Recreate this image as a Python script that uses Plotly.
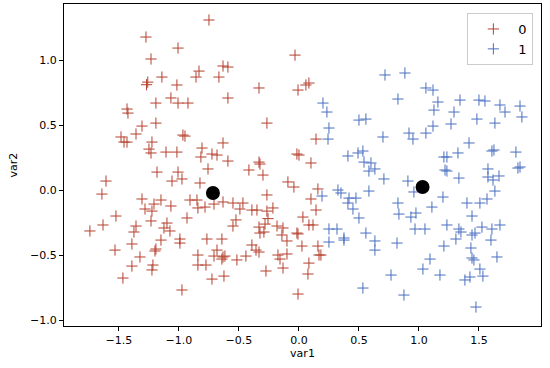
import plotly.graph_objects as go

# cluster 0 (red)
x0 = [-1.275,-1.008,-1.233,-1.142,-1.26,-1.27,-1.017,-1.067,-1.192,-1.008,-1.433,-0.75,-0.033,-0.633,-0.592,
      -0.833,-0.858,-0.667,-0.333,-0.008,-0.592,-0.925,0.058,0.083,
      -1.425,-1.308,-1.192,-1.358,-1.483,-1.458,-1.433,-1.225,-1.25,-1.233,-1.108,-1.017,-1.183,-1.008,-1.608,
      -1.058,-0.975,-1.642,-1.308,-1.15,-1.208,-1.067,-1.283,-1.225,-1.525,-0.967,
      -0.267,-0.95,-0.633,-0.808,-0.725,-0.683,-0.817,-0.017,-0.592,-0.333,-0.325,-0.758,-0.417,-0.3,
      -0.825,-0.092,-0.042,-0.267,-0.908,-0.85,-0.633,-0.55,-0.467,-0.708,-0.783,-0.842,-0.492,-0.392,-0.35,
      -0.267,-0.217,-0.525,-0.258,-0.933,
      0.142,0.0,0.1,0.158,0.1,0.142,0.033,
      -1.742,-1.633,-1.358,-1.375,-1.233,-1.1,-1.125,-1.075,-1.15,-0.992,-0.992,-1.392,-1.533,-1.192,-1.2,
      -1.325,-1.392,-1.217,-1.225,-1.467,-0.975,
      -0.55,-0.283,-0.333,-0.183,-0.133,-0.325,-0.292,-0.142,-0.017,-0.1,-0.767,-0.642,-0.392,-0.358,-0.333,
      -0.683,-0.842,-0.708,-0.633,-0.617,-0.442,-0.517,-0.642,-0.175,-0.158,-0.1,-0.842,-0.775,-0.133,-0.275,
      -0.625,-0.725,-0.008,
      0.083,0.117,-0.008,0.025,0.158,0.167,0.183,0.083,0.075]
y0 = [1.177,1.092,1.008,0.869,0.83,0.81,0.808,0.708,0.669,0.669,0.623,1.308,1.038,0.954,0.946,
      0.915,0.869,0.869,0.785,0.769,0.708,0.669,0.808,0.823,
      0.592,0.492,0.515,0.431,0.408,0.369,0.369,0.369,0.315,0.285,0.292,0.292,0.138,0.138,0.069,
      0.069,0.085,-0.031,-0.069,-0.077,-0.108,-0.123,-0.146,-0.162,-0.2,0.423,
      0.515,0.415,0.362,0.323,0.277,0.269,0.254,0.277,0.223,0.215,0.2,0.162,0.154,0.115,
      0.054,0.062,0.023,-0.038,-0.077,-0.077,-0.092,-0.1,-0.1,-0.108,-0.131,-0.138,-0.146,-0.154,-0.154,
      -0.162,-0.138,-0.23,-0.22,-0.215,
      0.392,0.269,0.208,0.008,-0.069,-0.154,-0.208,
      -0.315,-0.269,-0.277,-0.323,-0.238,-0.254,-0.292,-0.315,-0.385,-0.377,-0.408,-0.415,-0.462,-0.454,-0.469,
      -0.515,-0.585,-0.577,-0.615,-0.677,-0.769,
      -0.277,-0.262,-0.285,-0.277,-0.292,-0.331,-0.323,-0.346,-0.331,-0.392,-0.377,-0.377,-0.423,-0.462,-0.477,
      -0.462,-0.5,-0.508,-0.515,-0.508,-0.508,-0.538,-0.531,-0.5,-0.531,-0.492,-0.577,-0.577,-0.6,-0.623,
      -0.662,-0.685,-0.8,
      -0.269,-0.269,-0.338,-0.431,-0.431,-0.5,-0.5,-0.562,-0.646]

# cluster 1 (blue)
x1 = [0.717,0.883,0.825,0.2,0.233,
      1.058,1.117,1.158,1.342,1.5,1.55,1.675,1.842,1.125,1.292,1.717,
      0.5,0.558,0.25,0.242,0.7,0.917,0.95,0.408,0.492,0.533,0.542,0.6,0.583,0.633,0.708,0.908,0.325,0.35,
      0.583,0.192,0.417,0.475,0.408,0.825,0.45,0.833,0.958,0.933,0.5,
      1.483,1.633,1.858,1.267,1.117,1.058,1.417,1.608,1.808,1.325,1.208,1.217,1.825,1.575,1.575,1.617,1.667,
      1.333,1.633,1.2,1.567,1.4,1.508,1.108,0.975,1.442,1.233,1.233,1.625,1.842,
      0.25,0.317,0.375,0.375,0.558,0.25,0.633,0.633,0.817,0.767,0.533,0.875,
      0.967,1.05,1.233,1.333,1.35,1.308,1.467,1.442,1.525,1.608,1.675,1.6,1.208,1.433,1.092,1.442,1.458,
      1.65,1.033,1.175,1.508,1.533,1.425,1.383,1.475]
y1 = [0.885,0.9,0.7,0.669,0.6,
      0.785,0.769,0.677,0.692,0.692,0.685,0.654,0.646,0.615,0.6,0.6,
      0.538,0.546,0.477,0.392,0.408,0.438,0.392,0.262,0.285,0.3,0.215,0.208,0.146,0.162,0.085,0.069,0.0,-0.023,
      -0.008,-0.046,-0.062,-0.062,-0.1,-0.1,-0.146,-0.185,-0.015,-0.208,-0.215,
      0.546,0.515,0.562,0.508,0.492,0.438,0.362,0.3,0.292,0.285,0.254,0.154,0.169,0.162,0.1,0.077,0.108,
      0.092,-0.008,-0.054,-0.069,-0.1,-0.1,-0.131,-0.177,-0.2,0.254,0.146,0.308,0.177,
      -0.3,-0.3,-0.369,-0.385,-0.331,-0.4,-0.392,-0.462,-0.408,-0.654,-0.754,-0.808,
      -0.3,-0.3,-0.269,-0.3,-0.323,-0.377,-0.331,-0.346,-0.285,-0.3,-0.269,-0.385,-0.431,-0.446,-0.531,-0.523,-0.538,
      -0.515,-0.608,-0.654,-0.608,-0.662,-0.669,-0.692,-0.9]

# centroids
cx = [-0.717, 1.03]
cy = [-0.023, 0.023]

x_ticks = [-1.5, -1.0, -0.5, 0.0, 0.5, 1.0, 1.5]
y_ticks = [-1.0, -0.5, 0.0, 0.5, 1.0]

RED = "#b5402e"
BLUE = "#4a6fc0"

fig = go.Figure()
for xs, ys, col, name in [(x0, y0, RED, "0"), (x1, y1, BLUE, "1")]:
    fig.add_trace(go.Scatter(
        x=xs, y=ys, mode="markers", name=name,
        marker=dict(symbol="cross-thin-open", size=8, color=col,
                    line=dict(width=1, color=col))))
fig.add_trace(go.Scatter(x=cx, y=cy, mode="markers", showlegend=False,
                         marker=dict(symbol="circle", size=14, color="black")))

axis_common = dict(showline=True, mirror=True, linecolor="black", linewidth=1,
                   ticks="outside", ticklen=4, tickcolor="black", showgrid=False,
                   zeroline=False, tickformat=".1f", automargin=False,
                   tickfont=dict(family="DejaVu Sans", size=11, color="black"),
                   title_font=dict(family="DejaVu Sans", size=11, color="black"))
fig.update_xaxes(range=[-1.958, 2.017], tickvals=x_ticks, title_text="var1",
                 title_standoff=3, **axis_common)
fig.update_yaxes(range=[-1.046, 1.431], tickvals=y_ticks, title_text="var2",
                 title_standoff=10, **axis_common)

fig.update_layout(
    width=550, height=368,
    margin=dict(l=64, r=9, t=4, b=42),
    plot_bgcolor="white", paper_bgcolor="white",
    font=dict(family="DejaVu Sans", size=11, color="black"),
    legend=dict(x=0.984, y=0.972, xanchor="right", yanchor="top",
                bordercolor="#cccccc", borderwidth=1, bgcolor="rgba(255,255,255,0.8)",
                font=dict(size=13), itemwidth=40, tracegroupgap=4),
)

fig.write_html("out.html", config={"displayModeBar": False},
               post_script="document.body.style.margin='0';document.body.style.padding='0';")
